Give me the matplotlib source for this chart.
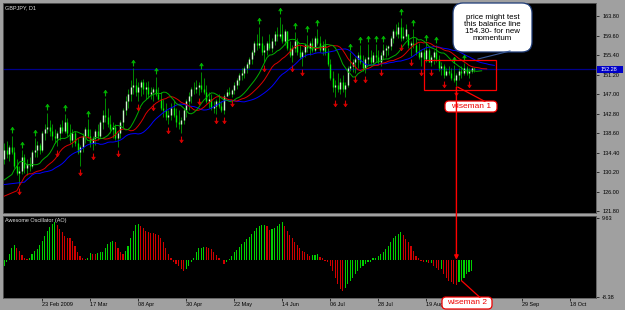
import numpy as np
import matplotlib
matplotlib.use("Agg")
import matplotlib.pyplot as plt
from matplotlib.patches import FancyBboxPatch, Rectangle, ConnectionPatch
from matplotlib.path import Path
from matplotlib.lines import Line2D

plt.rcParams['font.family'] = ['Liberation Sans', 'DejaVu Sans']

# ==========================================
# DATA  (GBPJPY daily)
# ==========================================

highs = [
    136.5, 136.8, 136.0, 138.0, 135.5, 133.0, 131.5, 134.9, 134.0, 133.0,
    133.5, 135.0, 137.5, 136.8, 136.5, 139.0, 140.5, 142.9, 141.5, 140.5,
    139.5, 139.0, 140.5, 141.5, 142.7, 141.8, 140.5, 139.5, 139.0, 137.5,
    136.0, 138.5, 140.0, 141.6, 139.5, 138.0, 139.5, 140.5, 141.5, 143.5,
    146.1, 144.0, 142.5, 141.0, 140.5, 139.0, 141.5, 144.0, 146.5, 148.0,
    150.0, 152.5, 150.5, 149.5, 150.0, 150.2, 149.5, 149.8, 148.5, 148.5,
    150.7, 148.5, 147.5, 146.0, 145.0, 143.5, 145.0, 145.5, 144.0, 143.5,
    142.0, 144.0, 146.0, 147.5, 148.5, 149.5, 150.0, 149.5, 151.8, 150.5,
    149.0, 147.5, 147.0, 145.5, 146.0, 147.0, 145.5, 147.0, 148.0, 148.5,
    148.0, 149.5, 150.5, 151.5, 152.5, 153.0, 154.0, 155.0, 156.5, 158.5,
    160.0, 161.5, 159.5, 157.5, 158.5, 160.0, 159.0, 160.5, 161.5, 163.6,
    162.0, 161.0, 160.5, 158.5, 157.5, 160.4, 159.0, 157.5, 156.5, 158.0,
    159.8, 158.5, 159.0, 159.5, 161.1, 159.5, 158.5, 158.8, 157.0, 154.5,
    152.0, 150.0, 151.5, 150.5, 151.0, 149.5, 153.0, 156.0, 154.5, 155.0,
    156.0, 157.5, 155.5, 155.0, 157.7, 156.5, 156.0, 157.7, 156.5, 156.0,
    157.7, 157.5, 157.6, 159.5, 161.0, 162.0, 162.5, 163.4, 161.5, 162.0,
    160.0, 158.5, 161.0, 159.0, 158.0, 156.5, 157.0, 157.9, 157.0, 155.5,
    156.5, 157.5, 155.5, 154.0, 153.5, 152.5, 153.0, 152.5, 153.2, 151.5,
    152.5, 153.0, 153.6, 153.0, 152.5, 152.8, 152.7,
]
lows = [
    132.0, 133.2, 132.5, 134.0, 131.0, 129.5, 127.4, 129.8, 130.0, 129.6,
    130.5, 131.0, 133.5, 133.5, 134.0, 134.5, 137.0, 138.5, 138.0, 137.0,
    136.5, 135.7, 137.0, 138.5, 138.5, 138.0, 136.5, 135.5, 135.8, 134.0,
    131.6, 134.5, 136.5, 137.5, 135.5, 134.9, 136.0, 137.0, 137.5, 139.5,
    141.0, 140.0, 138.5, 137.5, 137.0, 135.6, 137.5, 140.0, 142.5, 144.0,
    145.5, 147.0, 146.5, 145.5, 146.5, 147.0, 146.0, 146.2, 146.0, 145.5,
    146.5, 145.8, 143.5, 142.0, 141.5, 140.5, 141.5, 142.0, 140.0, 139.5,
    138.6, 140.5, 142.0, 143.5, 145.0, 147.0, 147.2, 146.7, 147.5, 147.0,
    145.0, 144.0, 143.5, 143.0, 142.6, 144.0, 143.2, 142.6, 146.5, 146.8,
    146.3, 147.0, 148.0, 149.0, 150.0, 150.5, 151.5, 152.5, 153.5, 155.5,
    156.5, 157.0, 155.5, 154.0, 155.5, 156.5, 156.0, 157.5, 158.5, 159.0,
    158.0, 157.5, 156.5, 155.0, 154.0, 156.0, 155.5, 154.5, 153.1, 155.0,
    156.0, 155.5, 156.0, 156.0, 157.5, 156.0, 155.5, 155.5, 153.0, 150.0,
    147.5, 146.3, 147.5, 147.0, 147.5, 146.3, 148.5, 152.0, 151.8, 151.6,
    152.5, 153.5, 152.0, 151.6, 153.5, 153.5, 153.2, 154.0, 153.5, 153.0,
    154.5, 155.0, 155.5, 156.5, 158.0, 159.5, 159.0, 158.4, 158.6, 158.8,
    157.0, 155.1, 157.0, 155.5, 154.5, 153.0, 154.0, 154.0, 153.8, 153.0,
    153.5, 154.0, 152.0, 151.0, 150.4, 150.8, 151.0, 150.0, 149.5, 148.7,
    150.0, 150.5, 151.0, 151.0, 150.4, 151.5, 151.8,
]
closes = [
    135.0, 134.0, 135.5, 134.5, 131.5, 130.0, 130.5, 133.5, 131.0, 132.0,
    131.5, 134.5, 135.0, 136.0, 135.0, 138.5, 139.5, 140.0, 139.0, 138.0,
    137.5, 138.5, 140.0, 139.0, 141.0, 138.5, 137.0, 138.5, 136.5, 134.5,
    135.5, 138.0, 139.5, 138.0, 136.5, 137.5, 139.0, 138.0, 141.0, 142.5,
    142.0, 140.5, 139.5, 140.0, 137.5, 138.5, 141.0, 143.5, 145.5, 147.0,
    148.5, 149.0, 147.5, 148.5, 149.5, 148.0, 148.5, 147.0, 147.5, 148.0,
    147.0, 146.0, 144.0, 143.5, 142.0, 142.5, 144.0, 142.5, 141.0, 140.5,
    141.5, 143.5, 145.5, 146.5, 148.0, 148.0, 148.5, 149.0, 148.0, 147.5,
    145.5, 146.0, 144.0, 144.5, 145.5, 144.5, 143.5, 146.5, 147.5, 147.0,
    147.8, 149.0, 150.0, 151.0, 151.5, 152.5, 153.5, 154.5, 156.0, 158.0,
    157.5, 158.0, 156.0, 156.5, 158.0, 157.0, 158.5, 160.0, 159.5, 160.0,
    158.5, 160.5, 157.0, 155.5, 157.0, 158.5, 156.0, 155.0, 156.0, 157.5,
    157.0, 158.0, 156.5, 159.0, 158.0, 156.5, 157.5, 156.0, 153.5, 150.5,
    148.5, 149.0, 148.0, 149.5, 148.0, 149.0, 152.5, 153.0, 154.0, 154.5,
    155.5, 154.0, 152.5, 154.5, 155.0, 154.0, 155.5, 155.0, 154.0, 155.5,
    156.5, 157.0, 157.3, 159.0, 160.5, 160.0, 161.5, 159.0, 159.5, 161.0,
    157.5, 158.0, 157.5, 156.0, 155.0, 156.0, 154.5, 156.5, 154.0, 155.0,
    156.0, 154.5, 152.5, 153.0, 151.0, 152.0, 151.5, 150.5, 150.0, 151.0,
    152.0, 151.5, 152.5, 151.5, 152.0, 152.5, 152.28,
]
first_open = 133.0
last_price = 152.28

up_fractals = [3, 7, 12, 17, 24, 33, 40, 51, 60, 78, 101, 109, 115, 120, 124,
               137, 141, 144, 147, 150, 157, 162, 167, 171, 178, 182]
down_fractals = [6, 21, 30, 35, 45, 53, 59, 65, 70, 77, 84, 87, 90, 103, 114,
                 118, 131, 135, 139, 143, 149, 157, 161, 165, 169, 174, 179, 184]

# alligator start values (history before the visible window)
jaw_seed, teeth_seed, lips_seed = 127.5, 125.0, 128.5

ao = [
    -1.3, -0.4, 1.4, 2.7, 3.4, 2.9, 2.0, 1.1, 0.4, 0.2,
    0.5, 1.4, 2.1, 2.5, 3.4, 4.5, 5.6, 6.6, 7.7, 8.4,
    8.8, 8.0, 7.1, 6.4, 5.6, 5.2, 5.1, 4.4, 3.3, 1.8,
    1.0, 0.6, 0.2, 0.6, 1.7, 1.5, 1.4, 1.6, 1.8, 1.9,
    2.9, 3.7, 4.2, 4.3, 4.1, 2.9, 1.8, 1.4, 2.1, 3.3,
    5.2, 6.7, 8.0, 8.3, 7.9, 7.3, 6.7, 6.4, 6.3, 6.2,
    6.0, 5.7, 5.2, 4.2, 2.9, 1.4, 0.4, -0.5, -0.9, -1.3,
    -2.1, -2.5, -2.1, -1.3, -0.5, 0.4, 1.9, 2.7, 2.9, 3.1,
    3.0, 2.7, 2.5, 1.9, 1.1, 0.4, 0.0, -0.9, -0.5, 0.2,
    1.0, 1.8, 2.4, 3.1, 3.7, 4.2, 4.8, 5.4, 6.0, 6.7,
    7.3, 7.9, 8.0, 8.1, 7.9, 7.0, 7.2, 7.5, 7.9, 8.3,
    8.7, 7.9, 6.7, 5.7, 5.0, 4.2, 3.4, 2.7, 2.1, 1.8,
    1.4, 1.0, 1.1, 1.3, 1.4, 0.8, 0.4, -0.1, -0.5, -1.3,
    -2.5, -4.0, -5.5, -6.7, -7.0, -6.3, -5.5, -4.7, -4.0, -3.2,
    -2.5, -1.7, -1.3, -0.9, -0.5, -0.3, 0.4, 0.6, 1.0, 1.4,
    1.9, 2.5, 3.3, 4.1, 5.0, 5.6, 6.1, 6.4, 5.7, 4.8,
    4.2, 3.3, 2.1, 1.0, 0.4, -0.1, -0.5, -0.4, -0.7, -0.6,
    -1.3, -1.7, -2.2, -2.1, -3.2, -4.0, -4.7, -5.1, -5.5, -5.7,
    -5.1, -4.7, -4.0, -3.2, -2.8, -2.5,
]

price_ticks = [121.80, 126.00, 130.20, 134.40, 138.60, 142.80,
               147.00, 151.20, 155.40, 159.60, 163.80]
ao_ticks = [-8.38, 9.63]
# the 10 Sep label sits under the "wiseman 2" box in the original, so it stays blank
date_pos = [15, 34, 53, 72, 91, 110, 129, 148, 167, 186, 205, 224]
date_labels = ["23 Feb 2009", "17 Mar", "08 Apr", "30 Apr", "22 May", "14 Jun",
               "06 Jul", "28 Jul", "19 Aug", "", "29 Sep", "18 Oct"]

callout_text = "price might test\nthis balance line\n154.30- for new\nmomentum"

# ==========================================
# FIGURE
# ==========================================

W, H = 625, 310
PX_PER_BAR = 2.526
fig = plt.figure(figsize=(W / 100, H / 100), dpi=100, facecolor='#a0a0a0')

ax = fig.add_axes([3 / W, 1 - 213 / H, 593 / W, 210 / H], facecolor='black')
ax2 = fig.add_axes([3 / W, 1 - 298 / H, 593 / W, 82 / H], facecolor='black')

xmax = -0.5 + 593 / PX_PER_BAR
for a in (ax, ax2):
    a.set_xlim(-0.5, xmax)
    for s in a.spines.values():
        s.set_color('#5a5a5a')
        s.set_linewidth(0.6)
ax.set_ylim(121.37, 166.6)
ax2.set_ylim(-8.68, 10.15)

# ---------------- price bars ---------------- #
hi = np.array(highs)
lo = np.array(lows)
cl = np.array(closes)
op = np.clip(np.array([first_open] + closes[:-1]), lo, hi)
idx = np.arange(len(hi))

ax.axhline(last_price, color='#00008b', lw=0.9, zorder=1)
ax.vlines(idx, lo, hi, color='#00b000', lw=0.55, zorder=2)
bull = cl >= op
ax.vlines(idx[bull], op[bull], cl[bull], color='#c8f5c8', lw=1.0, zorder=3)
ax.vlines(idx[~bull], cl[~bull], op[~bull], color='#00f000', lw=1.0, zorder=3)

# ---------------- alligator ---------------- #
def smma(values, period, seed):
    out = []
    prev = seed
    for v in values:
        prev = (prev * (period - 1) + v) / period
        out.append(prev)
    return np.array(out)

median = (hi + lo) / 2
for period, shift, seed, color in [(13, 8, jaw_seed, '#0000ff'),
                                   (8, 5, teeth_seed, '#dd0000'),
                                   (5, 3, lips_seed, '#00b000')]:
    line = smma(median, period, seed)
    xs = np.concatenate([[0], idx + shift])
    ys = np.concatenate([[seed], line])
    ax.plot(xs, ys, color=color, lw=0.7, zorder=4)

# ---------------- fractals ---------------- #
up_arrow = Path([(0, -1), (0, 1), (-0.6, 0.1), (0, 1), (0.6, 0.1)],
                [Path.MOVETO, Path.LINETO, Path.MOVETO, Path.LINETO, Path.LINETO])
down_arrow = Path([(0, 1), (0, -1), (-0.6, -0.1), (0, -1), (0.6, -0.1)],
                  [Path.MOVETO, Path.LINETO, Path.MOVETO, Path.LINETO, Path.LINETO])
ax.plot(up_fractals, hi[up_fractals] + 1.2, ls='none', marker=up_arrow,
        ms=4.2, mec='#00b400', mfc='none', mew=0.8, zorder=5)
ax.plot(down_fractals, lo[down_fractals] - 1.3, ls='none', marker=down_arrow,
        ms=4.2, mec='#d80000', mfc='none', mew=0.8, zorder=5)

# ---------------- axes text ---------------- #
ax.yaxis.tick_right()
ax.set_yticks(price_ticks)
ax.set_yticklabels([f"{t:.2f}" for t in price_ticks])
ax.tick_params(axis='y', length=2, width=0.5, pad=2.5, labelsize=4, colors='black')
ax.tick_params(axis='x', bottom=False, labelbottom=False)

ax.add_patch(Rectangle((1.002, last_price - 0.65), 0.044, 1.3,
                       transform=ax.get_yaxis_transform(), clip_on=False,
                       fc='#0000c8', ec='none', zorder=6))
ax.text(1.008, last_price, f"{last_price:.2f}", transform=ax.get_yaxis_transform(),
        ha='left', va='center', fontsize=4, color='white', zorder=7, clip_on=False)

ax.text(0.004, 0.988, "GBPJPY, D1", transform=ax.transAxes, ha='left', va='top',
        fontsize=4, color='#e0e0e0')

# ---------------- awesome oscillator ---------------- #
ao_col = []
rising = True
for k, v in enumerate(ao):
    if k > 0 and v != ao[k - 1]:
        rising = v > ao[k - 1]
    ao_col.append('#00d000' if rising else '#d00000')
ax2.bar(np.arange(len(ao)), ao, width=0.45, color=ao_col, linewidth=0)

ax2.yaxis.tick_right()
ax2.set_yticks(ao_ticks)
ax2.set_yticklabels([f"{t:.2f}" for t in ao_ticks])
ax2.tick_params(axis='y', length=2, width=0.5, pad=2.5, labelsize=4, colors='black')
ax2.set_xticks(date_pos)
ax2.set_xticklabels(date_labels)
for lbl in ax2.get_xticklabels():
    lbl.set_ha('left')
ax2.tick_params(axis='x', length=2, width=0.5, pad=1, labelsize=4, colors='black')
ax2.text(0.004, 0.97, "Awesome Oscillator (AO)", transform=ax2.transAxes,
         ha='left', va='top', fontsize=4, color='#e0e0e0')

# ---------------- annotations ---------------- #
inch = fig.dpi_scale_trans

def at(x, y):
    # screen pixel (from top-left) -> inches
    return x / 100, (H - y) / 100

bubble = FancyBboxPatch(at(453, 52), 0.79, 0.49, boxstyle='round,pad=0,rounding_size=0.1',
                        transform=inch, fc='white', ec='#1f3c78', lw=0.9, zorder=3)
fig.add_artist(bubble)
fig.text(*at(492.5, 28), callout_text, transform=inch, ha='center', va='center',
         fontsize=5.7, linespacing=0.95, color='black', zorder=4)
fig.add_artist(Line2D([at(510, 51)[0], at(478, 59)[0]], [at(510, 51)[1], at(478, 59)[1]],
                      transform=inch, color='#3a5a9a', lw=0.8, zorder=3))

ax.add_patch(Rectangle((166.3, 147.9), 28.5, 6.4, fill=False, ec='#ff0000', lw=0.9,
                       zorder=6, clip_on=False))

w1 = FancyBboxPatch(at(445, 112), 0.52, 0.11, boxstyle='round,pad=0,rounding_size=0.04',
                    transform=inch, fc='white', ec='#ee0000', lw=0.9, zorder=3)
fig.add_artist(w1)
fig.text(*at(471, 106.5), "wiseman 1", transform=inch, ha='center', va='center',
         fontsize=6, color='#ee0000', zorder=4)

w2 = FancyBboxPatch(at(442, 309), 0.50, 0.12, boxstyle='round,pad=0,rounding_size=0.04',
                    transform=inch, fc='white', ec='#ee0000', lw=0.9, zorder=3)
fig.add_artist(w2)
fig.text(*at(467, 303), "wiseman 2", transform=inch, ha='center', va='center',
         fontsize=6, color='#ee0000', zorder=4)

low_bar = 179
fig.add_artist(ConnectionPatch(xyA=(low_bar, lo[low_bar] - 0.2), coordsA=ax.transData,
                               xyB=(low_bar, 0.1), coordsB=ax2.transData,
                               arrowstyle='-|>', mutation_scale=6, color='#ff0000',
                               lw=1.0, zorder=6))
fig.add_artist(ConnectionPatch(xyA=(low_bar + 0.5, lo[low_bar] - 0.2), coordsA=ax.transData,
                               xyB=at(485, 101.5), coordsB=inch,
                               color='#ff0000', lw=0.9, zorder=5))
fig.add_artist(ConnectionPatch(xyA=(181, ao[181]), coordsA=ax2.transData,
                               xyB=at(480, 297.5), coordsB=inch,
                               color='#ff0000', lw=0.9, zorder=5))

fig.savefig("out.png", dpi=100, facecolor=fig.get_facecolor())
